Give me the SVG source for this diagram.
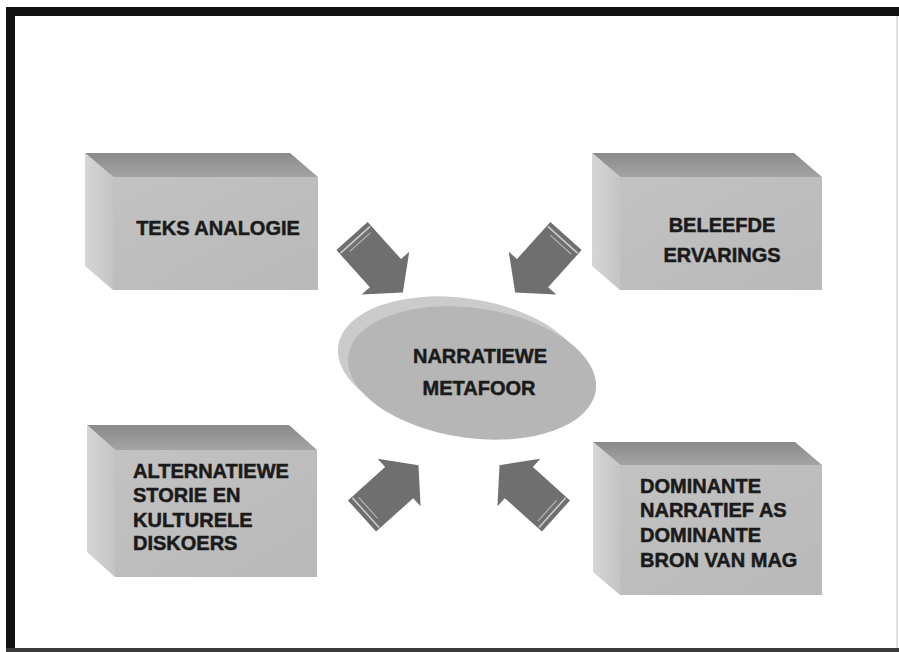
<svg xmlns="http://www.w3.org/2000/svg" width="899" height="652" viewBox="0 0 899 652">
  <defs>
    <linearGradient id="topFace" x1="0" y1="0" x2="0" y2="1">
      <stop offset="0" stop-color="#8a8a8a"/>
      <stop offset="1" stop-color="#a4a4a4"/>
    </linearGradient>
    <linearGradient id="sideFace" x1="0" y1="0" x2="1" y2="0">
      <stop offset="0" stop-color="#d6d6d6"/>
      <stop offset="1" stop-color="#c4c4c4"/>
    </linearGradient>
    <linearGradient id="frontFace" x1="0" y1="0" x2="1" y2="1">
      <stop offset="0" stop-color="#c2c2c2"/>
      <stop offset="1" stop-color="#b9b9b9"/>
    </linearGradient>
    <!-- block arrow drawn along +x, tail at origin -->
    <g id="blockArrow">
      <polygon points="0,-21 50,-21 50,-32 76,0 50,32 50,21 0,21" fill="#6f6f6f"/>
      <line x1="5" y1="-20" x2="5" y2="20" stroke="#cfcfcf" stroke-width="1.5"/>
      <line x1="10" y1="-16" x2="10" y2="12" stroke="#bdbdbd" stroke-width="1"/>
    </g>
  </defs>
  <style>
    .top { fill: url(#topFace); }
    .side { fill: url(#sideFace); }
    .front { fill: url(#frontFace); }
    .label { font-family: "Liberation Sans", Arial, sans-serif; font-weight: bold; font-size: 20px; fill: #1a1a1a; stroke: #1a1a1a; stroke-width: 0.5; }
    .mid { text-anchor: middle; }
  </style>

  <rect x="0" y="0" width="899" height="652" fill="#ffffff"/>

  <!-- frame -->
  <g id="frame">
    <rect x="6" y="7" width="893" height="9" fill="#111111"/>
    <rect x="6" y="7" width="9" height="645" fill="#111111"/>
    <rect x="6" y="648" width="893" height="4" fill="#3a3a3a"/>
    <line x1="897" y1="16" x2="897" y2="648" stroke="#d6d6d6" stroke-width="1.5"/>
  </g>

  <!-- connectors: block arrows pointing at the centre -->
  <g id="connectors">
    <use href="#blockArrow" transform="translate(352,236) rotate(48)"/>
    <use href="#blockArrow" transform="translate(566,236) rotate(132)"/>
    <use href="#blockArrow" transform="translate(362,516) rotate(-42)"/>
    <use href="#blockArrow" transform="translate(556,516) rotate(-138)"/>
  </g>

  <g id="box-teks">
    <polygon class="top" points="85,153 290,153 318,177 113,177"/>
    <polygon class="side" points="85,153 113,177 113,290 85,266"/>
    <rect class="front" x="113" y="177" width="205" height="113"/>
    <text class="label mid" x="218" y="235">TEKS ANALOGIE</text>
  </g>

  <g id="box-beleefde">
    <polygon class="top" points="592,153 794,153 822,177 620,177"/>
    <polygon class="side" points="592,153 620,177 620,290 592,266"/>
    <rect class="front" x="620" y="177" width="202" height="113"/>
    <text class="label mid" x="722" y="232">BELEEFDE</text>
    <text class="label mid" x="722" y="262">ERVARINGS</text>
  </g>

  <g id="box-alternatiewe">
    <polygon class="top" points="87,425 289,425 317,450 115,450"/>
    <polygon class="side" points="87,425 115,450 115,577 87,552"/>
    <rect class="front" x="115" y="450" width="202" height="127"/>
    <text class="label" x="133" y="478">ALTERNATIEWE</text>
    <text class="label" x="133" y="502">STORIE EN</text>
    <text class="label" x="133" y="527">KULTURELE</text>
    <text class="label" x="133" y="550">DISKOERS</text>
  </g>

  <g id="box-dominante">
    <polygon class="top" points="593,442 795,442 822,465 620,465"/>
    <polygon class="side" points="593,442 620,465 620,595 593,572"/>
    <rect class="front" x="620" y="465" width="202" height="130"/>
    <text class="label" x="640" y="493">DOMINANTE</text>
    <text class="label" x="640" y="517">NARRATIEF AS</text>
    <text class="label" x="640" y="542">DOMINANTE</text>
    <text class="label" x="640" y="567">BRON VAN MAG</text>
  </g>

  <g id="node-metafoor">
    <ellipse cx="461" cy="363" rx="124" ry="65" fill="#cbcbcb" transform="rotate(8 461 363)"/>
    <ellipse cx="472" cy="373" rx="125" ry="65" fill="#b6b6b6" transform="rotate(8 472 373)"/>
    <text class="label mid" x="480" y="363">NARRATIEWE</text>
    <text class="label mid" x="479" y="395">METAFOOR</text>
  </g>
</svg>
